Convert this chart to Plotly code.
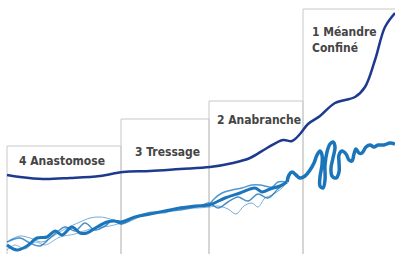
import plotly.graph_objects as go

# Stage boxes (open at bottom)
box_left = [7, 121, 209, 303]
box_right = [121, 209, 303, 400]
box_top = [146, 119, 101, 9]
bottom = 260

# Labels
labels = ["4 Anastomose", "3 Tressage", "2 Anabranche", "1 Méandre<br>Confiné"]
label_x = [17, 133, 215, 310]
label_y = [161, 152, 120, 40]

# Dark energy/slope curve
dark_x = [7, 20, 43, 70, 100, 123, 150, 180, 210, 233, 250, 267, 283, 292, 300, 308, 320, 335, 355, 365, 375, 385, 395]
dark_y = [175, 177, 179, 178, 176, 172, 171, 169, 167, 163, 158, 148, 140, 141, 134, 124, 116, 103, 97, 87, 60, 27, 13]

# Braided/anastomosing channels (x, y, width, opacity)
braids = [
    ([7, 17, 27, 37, 47, 55, 62, 72, 80, 87, 97, 107, 114, 121, 135, 150, 165, 180, 195, 209, 225, 240, 255, 262, 270, 280, 287],
     [245, 250, 246, 238, 237, 231, 235, 227, 233, 233, 227, 222, 221, 222, 217, 214, 211, 208, 206, 205, 198, 193, 188, 192, 189, 186, 182], 3.0, 1.0),
    ([7, 20, 30, 40, 50, 57, 65, 75, 85, 95, 105, 113, 121, 140, 160, 180, 200, 209, 218, 228, 238, 248, 258, 268, 278, 287],
     [242, 238, 243, 246, 238, 232, 227, 231, 223, 230, 226, 220, 224, 215, 212, 210, 206, 203, 208, 202, 197, 201, 194, 198, 189, 182], 1.5, 0.8),
    ([10, 20, 30, 42, 55, 65, 80, 90, 100, 110, 121, 135, 150, 165, 180, 195, 209, 218, 228, 236, 244, 252, 258, 265, 272, 282, 287],
     [240, 236, 238, 242, 235, 229, 222, 218, 217, 219, 224, 219, 212, 213, 207, 208, 207, 206, 209, 214, 206, 203, 207, 198, 195, 188, 182], 1.0, 0.6),
    ([209, 214, 222, 232, 242, 252, 260, 272, 278, 287],
     [205, 199, 193, 190, 188, 185, 185, 187, 182, 182], 1.5, 0.75),
    ([7, 15, 25, 35, 45, 60, 75, 90, 110, 121],
     [250, 245, 249, 242, 245, 237, 234, 229, 226, 223], 1.0, 0.55),
]

# Single meandering channel
mea_x = [287, 289, 292, 296, 300, 305, 310, 314, 317, 320, 322, 322, 320, 320, 323, 325, 325, 327, 330, 333, 335, 333, 331, 332, 336, 339, 339, 339, 342, 346, 349, 352, 354, 356, 359, 362, 366, 370, 374, 378, 384, 390, 395]
mea_y = [182, 175, 172, 175, 178, 176, 170, 163, 155, 151, 155, 165, 177, 186, 188, 180, 165, 152, 144, 142, 147, 158, 168, 176, 178, 172, 162, 155, 151, 154, 160, 161, 154, 149, 153, 153, 147, 145, 147, 145, 145, 143, 144]

dark_blue = "#1e3a8f"
river_blue = "#1b75bb"

fig = go.Figure()

for l, r, t in zip(box_left, box_right, box_top):
    fig.add_trace(go.Scatter(x=[l, l, r, r], y=[bottom, t, t, bottom], mode="lines",
                             line=dict(color="#c8c8c8", width=1), hoverinfo="skip"))

for bx, by, w, op in braids:
    fig.add_trace(go.Scatter(x=bx, y=by, mode="lines", opacity=op,
                             line=dict(color=river_blue, width=w, shape="spline", smoothing=1.0,
                                       simplify=False),
                             hoverinfo="skip"))

fig.add_trace(go.Scatter(x=mea_x, y=mea_y, mode="lines",
                         line=dict(color=river_blue, width=3.5, shape="spline", smoothing=1.0,
                                   simplify=False),
                         hoverinfo="skip"))

fig.add_trace(go.Scatter(x=dark_x, y=dark_y, mode="lines",
                         line=dict(color=dark_blue, width=2.5, shape="spline", smoothing=1.0,
                                   simplify=False),
                         hoverinfo="skip"))

for txt, lx, ly in zip(labels, label_x, label_y):
    fig.add_annotation(x=lx, y=ly, text=txt, showarrow=False, xanchor="left", yanchor="middle",
                       align="left",
                       font=dict(family="DejaVu Sans Condensed, sans-serif",
                                 size=12, color="#454545", weight="bold"))

fig.update_layout(width=395, height=254, margin=dict(l=0, r=0, t=0, b=0),
                  paper_bgcolor="white", plot_bgcolor="white", showlegend=False,
                  xaxis=dict(range=[0, 395], visible=False, fixedrange=True),
                  yaxis=dict(range=[254, 0], visible=False, fixedrange=True))

fig.write_html("out.html", config={"displayModeBar": False},
               post_script="document.body.style.margin='0';document.body.style.overflow='hidden';")
